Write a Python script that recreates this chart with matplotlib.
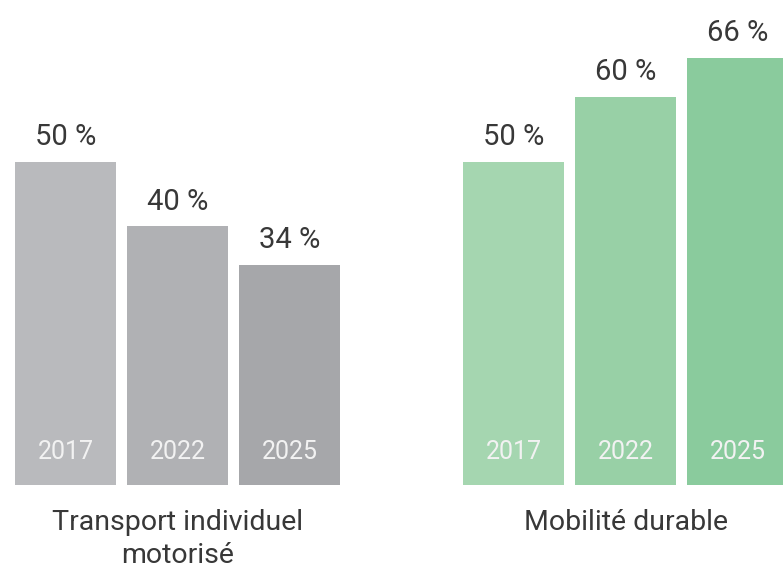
import matplotlib
matplotlib.use("Agg")
import matplotlib.pyplot as plt

# Données du graphique
groupes = ["Transport individuel\nmotorisé", "Mobilité durable"]
annees = ["2017", "2022", "2025"]
transport_motorise = [50, 40, 34]
mobilite_durable = [50, 60, 66]

couleurs_gris = ["#b9babd", "#b0b1b4", "#a6a7aa"]
couleurs_vert = ["#a5d6b0", "#98d0a6", "#8acb9d"]

plt.rcParams["font.family"] = ["Roboto", "DejaVu Sans"]

fig = plt.figure(figsize=(7.83, 5.69), dpi=100)
ax = fig.add_axes([0, 0, 1, 1])

pos_gris = [0, 1, 2]
pos_vert = [4, 5, 6]

for pos, valeurs, couleurs in [(pos_gris, transport_motorise, couleurs_gris),
                              (pos_vert, mobilite_durable, couleurs_vert)]:
    ax.bar(pos, valeurs, width=0.9, color=couleurs, linewidth=0)
    for x, v, an in zip(pos, valeurs, annees):
        ax.text(x, v + 3.8, f"{v} %", ha="center", va="center",
                fontsize=21, color="#383838")
        ax.text(x, 5.1, an, ha="center", va="center",
                fontsize=18, color="#f2f2f2")

for x, nom in zip([1, 5], groupes):
    y = -8.4 if "\n" in nom else -5.8
    ax.text(x, y, nom, ha="center", va="center", fontsize=20.5,
            color="#383838", linespacing=1.3)

ax.set_xlim(-65.5 / 112, (783 - 65.5) / 112)
ax.set_ylim(-(569 - 485) / 6.47, 485 / 6.47)
ax.axis("off")

fig.savefig("out.png", dpi=100, facecolor="white")
